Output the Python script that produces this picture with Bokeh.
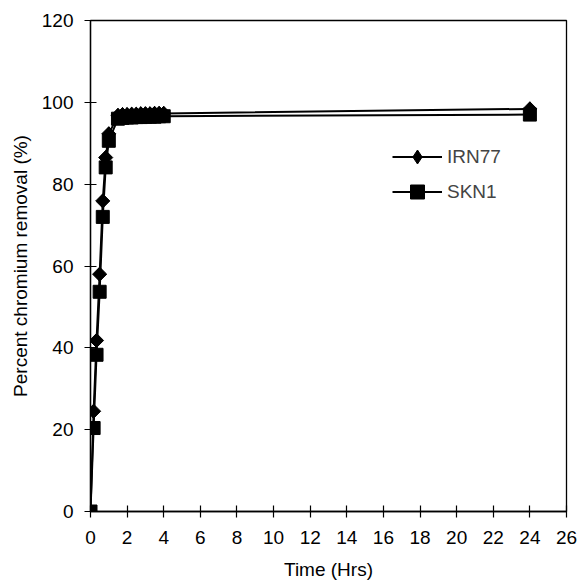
import math
from bokeh.plotting import figure
from bokeh.models import Range1d, Legend, LegendItem, FixedTicker
from bokeh.embed import file_html
from bokeh.resources import INLINE

time_hrs = [0, 0.17, 0.33, 0.5, 0.67, 0.83, 1, 1.5, 1.75, 2, 2.25, 2.5, 2.75, 3, 3.25, 3.5, 3.75, 4, 24]
irn77 = [0, 24.5, 41.8, 58.0, 75.9, 86.5, 92.3, 96.8, 97.0, 97.0, 97.1, 97.1, 97.2, 97.2, 97.2, 97.3, 97.3, 97.3, 98.4]
skn1 = [0, 20.4, 38.3, 53.7, 72.0, 84.1, 90.6, 96.0, 96.2, 96.3, 96.3, 96.4, 96.4, 96.5, 96.5, 96.5, 96.6, 96.6, 97.0]
x_ticks = list(range(0, 27, 2))
y_ticks = list(range(0, 121, 20))

FONT = "Liberation Sans"

p = figure(width=577, height=587, x_range=Range1d(0, 26), y_range=Range1d(0, 120),
           output_backend="svg", toolbar_location=None,
           min_border_left=90, min_border_right=11, min_border_top=20, min_border_bottom=76)
p.grid.visible = False
p.outline_line_color = "black"
p.outline_line_width = 1.3
p.background_fill_color = "white"
p.border_fill_color = "white"

for ax in (p.xaxis[0], p.yaxis[0]):
    ax.axis_line_color = "black"
    ax.axis_line_width = 1.3
    ax.major_tick_in = 6
    ax.major_tick_out = 6
    ax.major_tick_line_width = 1.2
    ax.minor_tick_line_color = None
    ax.major_label_text_font = FONT
    ax.major_label_text_font_size = "19px"
    ax.major_label_text_color = "black"
    ax.axis_label_text_font = FONT
    ax.axis_label_text_font_size = "19px"
    ax.axis_label_text_font_style = "normal"
    ax.axis_label_text_color = "black"

p.xaxis[0].major_label_standoff = 13
p.yaxis[0].major_label_standoff = 11
p.xaxis[0].ticker = FixedTicker(ticks=x_ticks)
p.yaxis[0].ticker = FixedTicker(ticks=y_ticks)
p.xaxis[0].axis_label = "Time (Hrs)"
p.yaxis[0].axis_label = "Percent chromium removal (%)"
p.xaxis[0].axis_label_standoff = 12
p.yaxis[0].axis_label_standoff = 8

l1 = p.line(time_hrs, irn77, line_color="black", line_width=2)
# upright diamonds (used by the legend), covered by the wider rotated squares
m1_leg = p.scatter(time_hrs, irn77, marker="diamond", size=14,
                   fill_color="black", line_color="black")
m1 = p.scatter(time_hrs, irn77, marker="square", angle=math.pi / 4, size=10,
               fill_color="black", line_color="black")
l2 = p.line(time_hrs, skn1, line_color="black", line_width=2)
m2 = p.scatter(time_hrs, skn1, marker="square", size=13,
               fill_color="black", line_color="black")

legend = Legend(items=[LegendItem(label="IRN77", renderers=[l1, m1_leg]),
                       LegendItem(label="SKN1", renderers=[l2, m2])],
                location=(302, 302), glyph_width=50, glyph_height=35, label_height=35,
                spacing=0, padding=0, margin=0, label_standoff=5,
                label_text_font=FONT, label_text_font_size="19px",
                border_line_color=None, background_fill_alpha=0)
p.add_layout(legend)

open("out.html", "w").write(file_html(p, INLINE))
